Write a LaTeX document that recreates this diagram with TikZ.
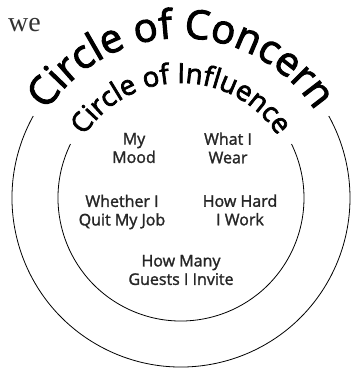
\documentclass[tikz,border=0pt]{standalone}
\usepackage{fontspec}
\setmainfont{Liberation Serif}
\newfontfamily\arcfont[FakeBold=2.6]{Open Sans}
\newfontfamily\lblfont[FakeBold=1.6]{Open Sans}
\usetikzlibrary{decorations.text}
\newcommand{\concernfont}{\arcfont\fontsize{40}{40}\selectfont}
\newcommand{\influencefont}{\arcfont\fontsize{27.5}{27.5}\selectfont}
\tikzset{
  ring/.style={draw=black, line width=0.8pt},
  lbl/.style={font=\lblfont\fontsize{16}{18.5}\selectfont, align=center, text=black!85, inner sep=0pt},
}
\begin{document}
\begin{tikzpicture}[x=1pt,y=1pt]
\useasboundingbox (0,0) rectangle (351,-369);
\coordinate (O) at (181,-198);
% rings
\draw[ring] (O) ++(151:169) arc[start angle=151, end angle=389, radius=169];
\draw[ring] (O) ++(154:123) arc[start angle=154, end angle=386, radius=123];
% arc texts
\path[decorate, decoration={text along path, text align=center,
  text={|\concernfont|Circle of Concern}}]
  (O) ++(175:160) arc[start angle=175, end angle=5, radius=160];
\path[decorate, decoration={text along path, text align=center,
  text={|\influencefont|Circle of Influence}}]
  (O) ++(175:115) arc[start angle=175, end angle=5, radius=115];
% we
\node[anchor=base, font=\fontsize{28}{28}\selectfont, text=black!80, inner sep=0pt] (we) at (24.5,-32) {we};
% labels
\node[lbl] (mood) at (134,-148) {My\\Mood};
\node[lbl] (wear) at (228,-148) {What I\\Wear};
\node[lbl] (job) at (122,-212) {Whether I\\Quit My Job};
\node[lbl] (work) at (240,-210) {How Hard\\I Work};
\node[lbl] (guests) at (181,-270) {How Many\\Guests I Invite};
\end{tikzpicture}
\end{document}
